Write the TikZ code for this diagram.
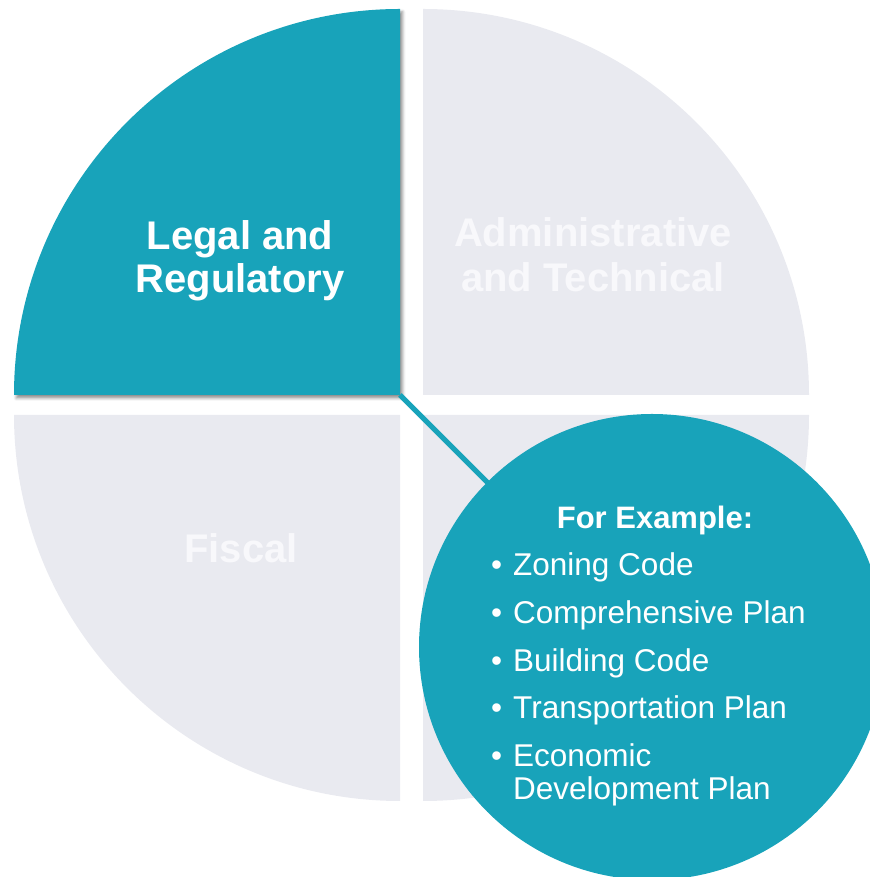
\documentclass[tikz,border=0pt]{standalone}
\usepackage{fontspec}
\setmainfont{Liberation Sans}
\usetikzlibrary{shadows.blur}
\definecolor{teal1}{RGB}{24,163,186}
\definecolor{gray1}{RGB}{233,234,240}
\definecolor{faint}{RGB}{248,248,251}
\tikzset{
  quad/.style={fill=gray1, draw=none},
  activequad/.style={fill=teal1, draw=none, blur shadow={shadow xshift=2.5pt, shadow yshift=-3pt, shadow blur radius=3pt, shadow opacity=45}},
  headtext/.style={font=\fontsize{40}{44}\selectfont\bfseries, text=white, anchor=base, inner sep=0pt},
  fainttext/.style={headtext, text=faint},
  listtext/.style={font=\fontsize{31.5}{34}\selectfont, text=white, anchor=base west, inner sep=0pt},
  bigcircle/.style={circle, fill=teal1, draw=none, minimum size=466pt, inner sep=0pt},
  connector/.style={draw=teal1, line width=5pt}
}
\begin{document}
\begin{tikzpicture}[x=1pt,y=1pt]
\useasboundingbox (0,0) rectangle (869,877);
% quadrants
\path[quad] (423,482) -- (423,868) arc[start angle=90, end angle=0, radius=386pt] -- cycle;
\path[quad] (400,462) -- (14,462) arc[start angle=180, end angle=270, radius=386pt] -- cycle;
\path[quad] (423,462) -- (809,462) arc[start angle=0, end angle=-90, radius=386pt] -- cycle;
\path[activequad] (400,482) -- (14,482) arc[start angle=180, end angle=90, radius=386pt] -- cycle;
\coordinate (tlcorner) at (400,482);
\coordinate (bigcenter) at (652,230);
% connector, covered by the circle at its far end
\draw[connector] (tlcorner) -- (bigcenter);
\node[bigcircle] (bigc) at (bigcenter) {};
% quadrant labels
\node[headtext] (legal1) at (240,627) {Legal and};
\node[headtext] (legal2) at (240,584) {Regulatory};
\node[fainttext] (admin1) at (593,630) {Administrative};
\node[fainttext] (admin2) at (593,585) {and Technical};
\node[fainttext] (fiscal) at (241,314) {Fiscal};
% list
\node[listtext, anchor=base, font=\fontsize{31}{34}\selectfont\bfseries] (forex) at (655,348) {For Example:};
\node[listtext] (item1) at (491,301) {\makebox[22pt][l]{•}Zoning Code};
\node[listtext] (item2) at (491,253) {\makebox[22pt][l]{•}Comprehensive Plan};
\node[listtext] (item3) at (491,205) {\makebox[22pt][l]{•}Building Code};
\node[listtext] (item4) at (491,158) {\makebox[22pt][l]{•}Transportation Plan};
\node[listtext] (item5) at (491,110) {\makebox[22pt][l]{•}Economic};
\node[listtext] (item5b) at (513,77) {Development Plan};
\end{tikzpicture}
\end{document}
